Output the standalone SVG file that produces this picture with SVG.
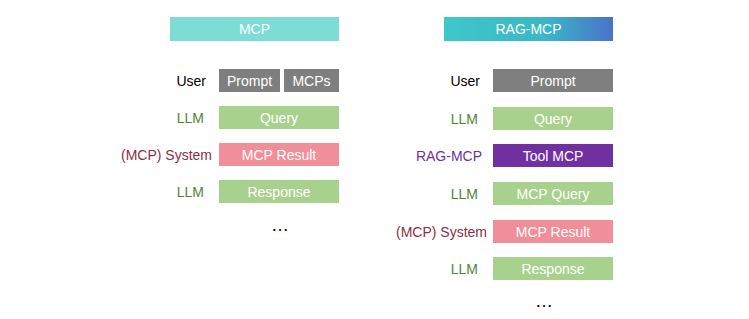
<svg xmlns="http://www.w3.org/2000/svg" width="749" height="319" viewBox="0 0 749 319">
<defs>
<linearGradient id="rg" x1="0" y1="0" x2="1" y2="0">
<stop offset="0" stop-color="#3fc8c8"/>
<stop offset="0.6" stop-color="#3bb6c8"/>
<stop offset="1" stop-color="#4a72c9"/>
</linearGradient>
<style>
text{font-family:"Liberation Sans",Arial,sans-serif;font-size:14px}
.bt{fill:#ffffff;text-anchor:middle}
.lb{text-anchor:end}
.gray{fill:#7f7f7f}
.green{fill:#a9d18e}
.pink{fill:#f08e99}
.purple{fill:#7030a0}
.lu{fill:#000000}
.ll{fill:#548235}
.ls{fill:#8c2f3f}
.lr{fill:#7030a0}
.dots{font-size:18px;fill:#000;text-anchor:middle}
</style>
</defs>
<rect width="749" height="319" fill="#ffffff"/>
<g id="connectors"></g>
<g id="left">
<g id="mcp-header"><rect x="170" y="17" width="169" height="24" fill="#7ddcd6"/><text class="bt" x="254.5" y="34">MCP</text></g>
<g id="l-user"><text class="lb lu" x="206" y="86">User</text></g>
<g id="l-prompt"><rect class="gray" x="219" y="69" width="61" height="23"/><text class="bt" x="249.5" y="86">Prompt</text></g>
<g id="l-mcps"><rect class="gray" x="284" y="69" width="55" height="23"/><text class="bt" x="311.5" y="86">MCPs</text></g>
<g id="l-llm1"><text class="lb ll" x="204" y="123">LLM</text></g>
<g id="l-query"><rect class="green" x="219" y="106" width="120" height="23"/><text class="bt" x="279" y="123">Query</text></g>
<g id="l-sys"><text class="lb ls" x="212" y="160">(MCP) System</text></g>
<g id="l-result"><rect class="pink" x="219" y="143" width="120" height="23"/><text class="bt" x="279" y="160">MCP Result</text></g>
<g id="l-llm2"><text class="lb ll" x="204" y="197">LLM</text></g>
<g id="l-response"><rect class="green" x="219" y="180" width="120" height="23"/><text class="bt" x="279" y="197">Response</text></g>
<g id="l-dots"><text class="dots" x="280" y="231">…</text></g>
</g>
<g id="right">
<g id="rag-header"><rect x="444" y="17" width="169" height="24" fill="url(#rg)"/><text class="bt" x="528.5" y="34">RAG-MCP</text></g>
<g id="r-user"><text class="lb lu" x="480" y="86">User</text></g>
<g id="r-prompt"><rect class="gray" x="493" y="69" width="120" height="23"/><text class="bt" x="553" y="86">Prompt</text></g>
<g id="r-llm1"><text class="lb ll" x="478" y="124">LLM</text></g>
<g id="r-query"><rect class="green" x="493" y="107" width="120" height="23"/><text class="bt" x="553" y="124">Query</text></g>
<g id="r-rag"><text class="lb lr" x="482" y="161">RAG-MCP</text></g>
<g id="r-tool"><rect class="purple" x="493" y="144" width="120" height="23"/><text class="bt" x="553" y="161">Tool MCP</text></g>
<g id="r-llm2"><text class="lb ll" x="478" y="199">LLM</text></g>
<g id="r-mcpquery"><rect class="green" x="493" y="182" width="120" height="23"/><text class="bt" x="553" y="199">MCP Query</text></g>
<g id="r-sys"><text class="lb ls" x="487" y="237">(MCP) System</text></g>
<g id="r-result"><rect class="pink" x="493" y="220" width="120" height="23"/><text class="bt" x="553" y="237">MCP Result</text></g>
<g id="r-llm3"><text class="lb ll" x="478" y="274">LLM</text></g>
<g id="r-response"><rect class="green" x="493" y="257" width="120" height="23"/><text class="bt" x="553" y="274">Response</text></g>
<g id="r-dots"><text class="dots" x="544" y="307">…</text></g>
</g>
</svg>
